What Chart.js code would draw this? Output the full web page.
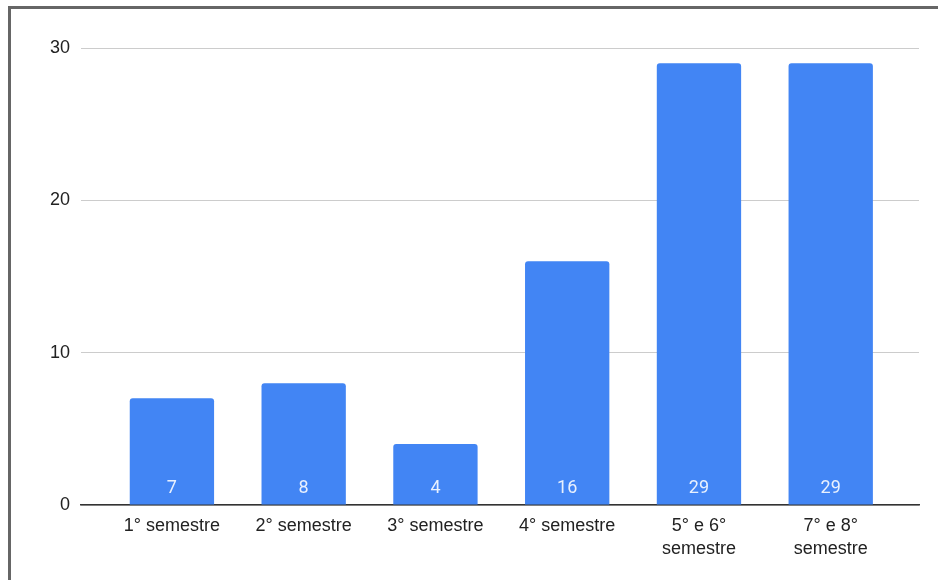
<!DOCTYPE html>
<html>
<head>
<meta charset="utf-8">
<script src="https://cdn.jsdelivr.net/npm/chart.js@4"></script>
<style>
  html, body { margin: 0; padding: 0; background: #fff; overflow: hidden; }
  #wrap { position: relative; width: 938px; height: 580px; }
  #frame { position: absolute; left: 8px; top: 6px; width: 1000px; height: 1000px;
           border-left: 3px solid #666; border-top: 3px solid #666; pointer-events: none; }
  canvas { position: absolute; left: 0; top: 0; }
</style>
</head>
<body>
<div id="wrap">
  <canvas id="c" width="938" height="580"></canvas>
  <div id="frame"></div>
</div>
<script>
// Students per semester
const categories = [
  ['1° semestre'],
  ['2° semestre'],
  ['3° semestre'],
  ['4° semestre'],
  ['5° e 6°', 'semestre'],
  ['7° e 8°', 'semestre']
];
const values = [7, 8, 4, 16, 29, 29];
const yTicks = [0, 10, 20, 30];

const BAR = '#4285F4';
const TEXT = '#222222';

// White value label at the foot of each bar
const barValueLabels = {
  id: 'barValueLabels',
  afterDatasetsDraw(chart) {
    const ctx = chart.ctx;
    const meta = chart.getDatasetMeta(0);
    const base = chart.scales.y.getPixelForValue(0);
    ctx.save();
    ctx.font = '18px Roboto, "Liberation Sans", sans-serif';
    ctx.fillStyle = 'rgba(255,255,255,0.88)';
    ctx.textAlign = 'center';
    ctx.textBaseline = 'middle';
    meta.data.forEach((bar, i) => {
      ctx.fillText(String(values[i]), bar.x, base - 17);
    });
    ctx.restore();
  }
};

new Chart(document.getElementById('c'), {
  type: 'bar',
  data: {
    datasets: [{
      data: values.map((v, i) => ({ x: i, y: v })),
      backgroundColor: BAR,
      borderRadius: 3,
      borderSkipped: 'start',
      barPercentage: 0.64,
      categoryPercentage: 1
    }]
  },
  options: {
    responsive: false,
    animation: false,
    layout: { padding: { top: 48, right: 19, left: 0, bottom: 0 } },
    plugins: { legend: { display: false }, tooltip: { enabled: false } },
    scales: {
      x: {
        type: 'linear',
        offset: false,
        min: -0.69,
        max: 5.67,
        afterBuildTicks: s => { s.ticks = categories.map((_, i) => ({ value: i })); },
        afterFit: s => { s.height = 75; },
        grid: { display: false, drawTicks: false, offset: false },
        border: { display: true, color: '#333333', width: 1.5 },
        ticks: {
          autoSkip: false,
          maxRotation: 0,
          padding: 9,
          color: TEXT,
          font: { family: '"Liberation Sans", Arial, sans-serif', size: 18, lineHeight: 1.3 },
          callback: v => categories[v] || ''
        }
      },
      y: {
        min: 0,
        max: 30,
        afterBuildTicks: s => { s.ticks = yTicks.map(v => ({ value: v })); },
        afterFit: s => { s.width = 81; },
        grid: { color: '#cccccc', lineWidth: 1, drawTicks: false },
        border: { display: false },
        ticks: {
          padding: 11,
          color: TEXT,
          font: { family: '"Liberation Sans", Arial, sans-serif', size: 18 }
        }
      }
    }
  },
  plugins: [barValueLabels]
});
</script>
</body>
</html>
